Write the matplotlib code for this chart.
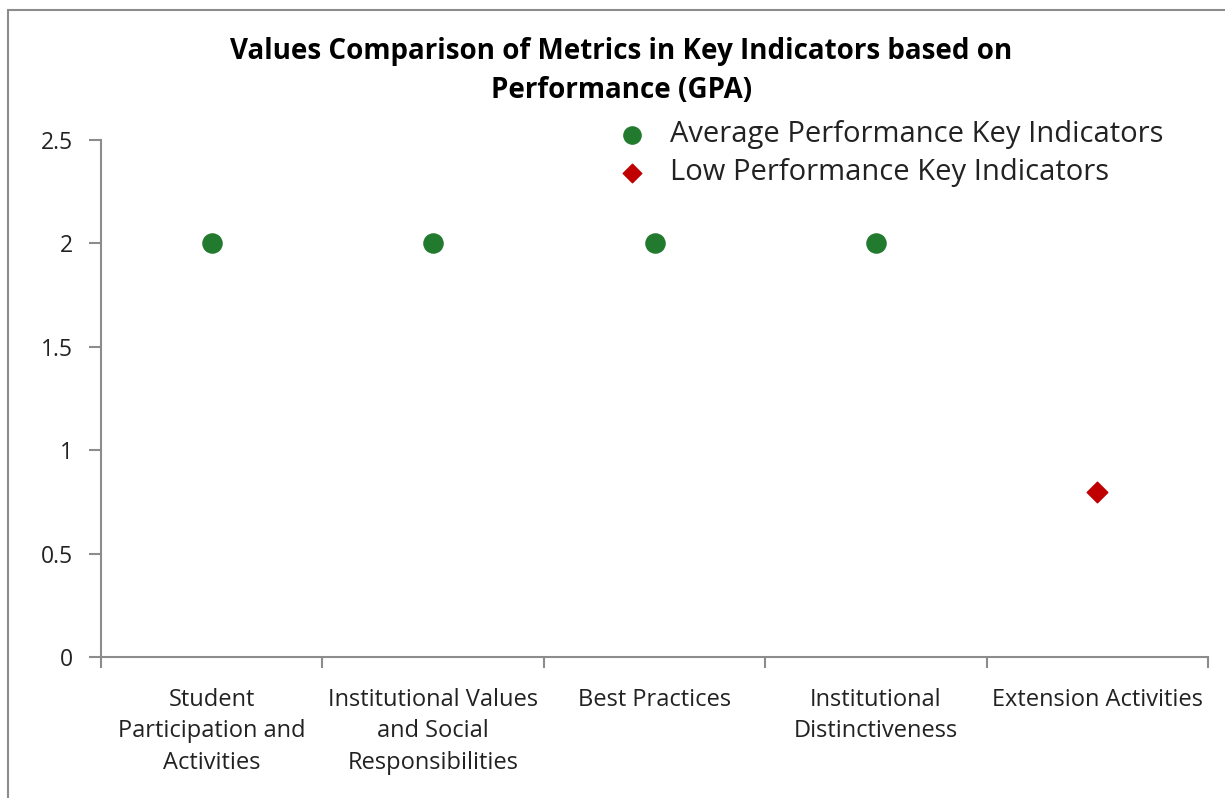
import matplotlib.pyplot as plt
from matplotlib.patches import Rectangle

categories = ["Student\nParticipation and\nActivities",
              "Institutional Values\nand Social\nResponsibilities",
              "Best Practices",
              "Institutional\nDistinctiveness",
              "Extension Activities"]
avg_idx = [0, 1, 2, 3]
avg_vals = [2, 2, 2, 2]
low_idx = [4]
low_vals = [0.8]

plt.rcParams['font.family'] = ['Open Sans', 'DejaVu Sans']

fig = plt.figure(figsize=(12.25, 7.98), dpi=100)
ax = fig.add_axes([101/1225, 1 - 657/798, (1208 - 101)/1225, (657 - 140)/798])

# frame of the chart area
fig.patches.append(Rectangle((8/1225, -0.05), 1.1, 1 - 10/798 + 0.05,
                             transform=fig.transFigure, fill=False,
                             edgecolor='#8c8c8c', linewidth=1.5))

ax.scatter([i + 0.5 for i in avg_idx], avg_vals, s=190, color='#217a2e',
           marker='o', zorder=3, label='Average Performance Key Indicators')
ax.scatter([i + 0.5 for i in low_idx], low_vals, s=110, color='#c00000',
           marker='D', zorder=3, label='Low Performance Key Indicators')

ax.set_xlim(0, 5)
ax.set_ylim(0, 2.5)
ax.set_yticks([0, 0.5, 1, 1.5, 2, 2.5])
ax.set_yticklabels(['0', '0.5', '1', '1.5', '2', '2.5'])
ax.set_xticks(range(6))
ax.set_xticklabels([])
ax.set_xticks([i + 0.5 for i in range(5)], minor=True)
ax.set_xticklabels(categories, minor=True, fontsize=17, color='#222222',
                   linespacing=1.43)
ax.tick_params(axis='x', which='major', direction='out', length=8,
               color='#8c8c8c', width=1.5)
ax.tick_params(axis='x', which='minor', length=0, pad=22)
ax.tick_params(axis='y', length=9, color='#8c8c8c', width=1.5, labelsize=16.5,
               pad=11, labelcolor='#222222')
for s in ['top', 'right']:
    ax.spines[s].set_visible(False)
for s in ['bottom', 'left']:
    ax.spines[s].set_color('#8c8c8c')
    ax.spines[s].set_linewidth(1.5)

fig.text(0.507, 1 - 71/798, "Values Comparison of Metrics in Key Indicators based on\nPerformance (GPA)",
         ha='center', va='center', fontsize=20, fontweight='bold', linespacing=1.45)

leg = ax.legend(loc='upper left', bbox_to_anchor=(582/1225, 1 - 100/798),
                bbox_transform=fig.transFigure, frameon=False, fontsize=21,
                handletextpad=0.3, labelspacing=0.3, markerscale=0.9,
                borderpad=0.2)
for t in leg.get_texts():
    t.set_color('#222222')

fig.savefig('out.png', dpi=100)
